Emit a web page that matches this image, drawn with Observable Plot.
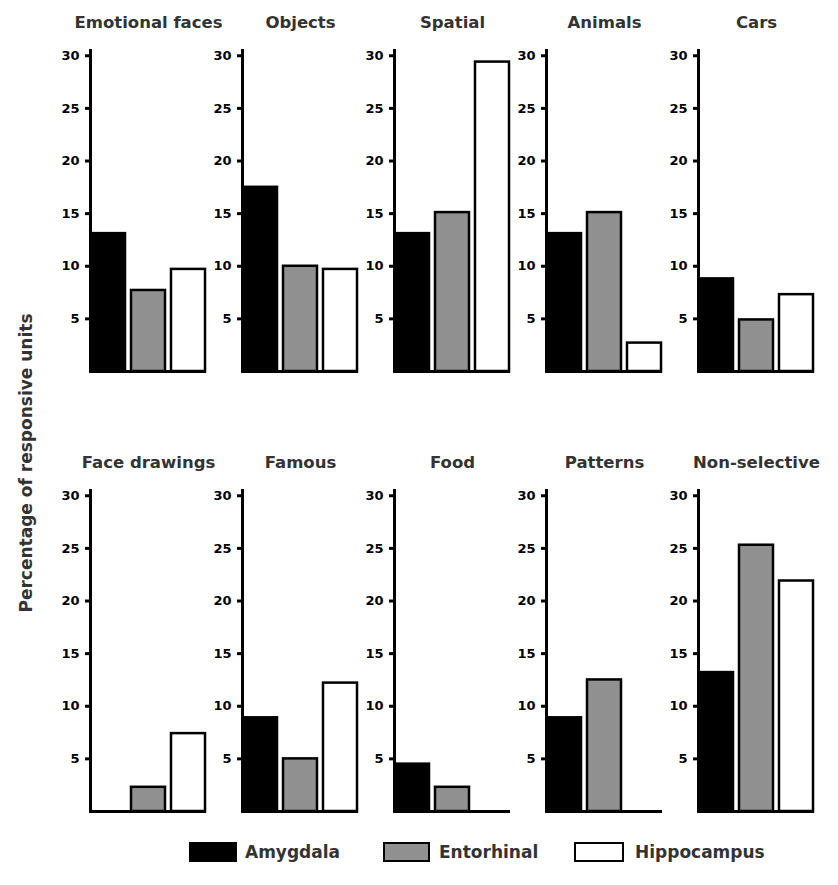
<!DOCTYPE html>
<html>
<head>
<meta charset="utf-8">
<script src="https://cdn.jsdelivr.net/npm/d3@7"></script>
<script src="https://cdn.jsdelivr.net/npm/@observablehq/plot@0.6"></script>
<style>
  body { margin: 0; background: #fff; font-family: "DejaVu Sans", sans-serif; }
  #wrap { position: relative; width: 838px; height: 885px; overflow: hidden; }
  #chart { position: absolute; left: 0; top: 0; }
  .sw { position: absolute; top: 842px; height: 20px; box-sizing: border-box; border: 2px solid #000; }
  .lt { position: absolute; top: 842px; height: 20px; line-height: 20px; font-size: 17px; font-weight: bold; color: #333; white-space: nowrap; }
</style>
</head>
<body>
<div id="wrap">
  <div id="chart"></div>
  <div id="legend"></div>
</div>
<script>
// ---- data ----
const panels = ["Emotional faces", "Objects", "Spatial", "Animals", "Cars",
                "Face drawings", "Famous", "Food", "Patterns", "Non-selective"];
const regions = ["Amygdala", "Entorhinal", "Hippocampus"];
const amygdala    = [13.1, 17.5, 13.1, 13.1, 8.8, 0,   8.9, 4.5, 8.9, 13.2];
const entorhinal  = [7.7,  10.0, 15.1, 15.1, 4.9, 2.3, 5.0, 2.3, 12.5, 25.3];
const hippocampus = [9.7,  9.7,  29.4, 2.7,  7.3, 7.4, 12.2, 0,  0,   21.9];
const yTicks = [5, 10, 15, 20, 25, 30];
const regionFills = ["#000000", "#909090", "#ffffff"];
const yLabel = "Percentage of responsive units";

// ---- build table ----
const series = [amygdala, entorhinal, hippocampus];
const rows = [];
panels.forEach((p, i) => {
  regions.forEach((r, j) => {
    rows.push({panel: p, col: i % 5, row: Math.floor(i / 5), region: r, value: series[j][i]});
  });
});
const titles = panels.map((p, i) => ({panel: p, col: i % 5, row: Math.floor(i / 5)}));

const chart = Plot.plot({
  width: 838,
  height: 830,
  marginLeft: 88,
  marginRight: 21,
  marginTop: 50,
  marginBottom: 19,
  style: {fontFamily: "DejaVu Sans, sans-serif", background: "#fff"},
  fx: {domain: [0, 1, 2, 3, 4], paddingInner: 0.235, paddingOuter: 0, axis: null},
  fy: {domain: [0, 1], paddingInner: 0.2705, paddingOuter: 0, axis: null},
  x: {domain: regions, paddingInner: 0.15, paddingOuter: 0, axis: null},
  y: {domain: [0, 30.5], axis: null},
  color: {domain: regions, range: regionFills},
  marks: [
    Plot.barY(rows.filter(d => d.value > 0), {
      fx: "col", fy: "row", x: "region", y: "value",
      fill: "region", stroke: "#000", strokeWidth: 2.5
    }),
    Plot.axisY({
      ticks: yTicks, facetAnchor: null, tickSize: 5, tickPadding: 6, label: null,
      strokeWidth: 3, fontSize: 13, fontWeight: "bold", fill: "#000", stroke: "#000",
      tickFormat: d => String(d)
    }),
    Plot.frame({anchor: "left", strokeWidth: 3, stroke: "#000"}),
    Plot.ruleY([0], {strokeWidth: 3, stroke: "#000"}),
    Plot.text(titles, {
      fx: "col", fy: "row", text: "panel", frameAnchor: "top", dy: -28,
      fontSize: 16.5, fontWeight: "bold", fill: "#333", lineAnchor: "middle"
    })
  ]
});

document.getElementById("chart").appendChild(chart);

// y axis label
d3.select(chart).append("text")
  .attr("transform", "translate(27,463) rotate(-90)")
  .attr("text-anchor", "middle")
  .attr("dominant-baseline", "middle")
  .attr("font-size", 17)
  .attr("font-weight", "bold")
  .attr("fill", "#333")
  .text(yLabel);

// legend
const legendPos = [
  {sw: 189, w: 48, lt: 245},
  {sw: 383, w: 47, lt: 439},
  {sw: 574, w: 50, lt: 635}
];
const lg = document.getElementById("legend");
regions.forEach((r, i) => {
  const s = document.createElement("div");
  s.className = "sw";
  s.style.left = legendPos[i].sw + "px";
  s.style.width = legendPos[i].w + "px";
  s.style.background = regionFills[i];
  lg.appendChild(s);
  const t = document.createElement("div");
  t.className = "lt";
  t.style.left = legendPos[i].lt + "px";
  t.textContent = r;
  lg.appendChild(t);
});
</script>
</body>
</html>
